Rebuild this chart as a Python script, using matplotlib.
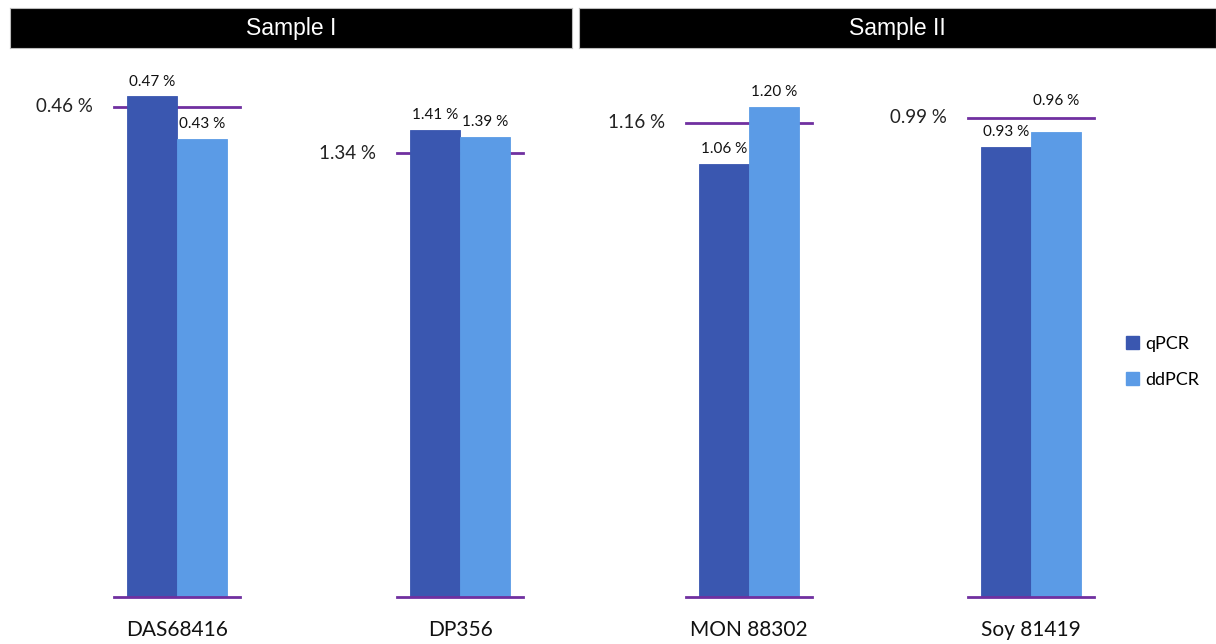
import matplotlib
matplotlib.use("Agg")
import matplotlib.pyplot as plt
from matplotlib.patches import Patch
from matplotlib import transforms

# ---- data ----
categories = ["DAS68416", "DP356", "MON 88302", "Soy 81419"]
series = ["qPCR", "ddPCR"]
qpcr = [0.47, 1.41, 1.06, 0.93]
ddpcr = [0.43, 1.39, 1.20, 0.96]
reference = [0.46, 1.34, 1.16, 0.99]
samples = ["Sample I", "Sample II"]

# ---- style / layout ----
W, H = 1216, 644
c_q = "#3A57B0"
c_d = "#5B9BE6"
c_ref = "#7030A0"
panel_centers_px = [177, 460, 749, 1031]
panel_width_px = 126
ax_bottom_px, ax_top_px = 597, 60
ylim_tops = [0.504, 1.621, 1.314, 1.109]
num_font = ["Lato", "DejaVu Sans"]

fig = plt.figure(figsize=(W / 100, H / 100), dpi=100)
fig.patch.set_facecolor("white")

# header bands
header_px = [(10, 572), (579, 1216)]
for (x0, x1), name in zip(header_px, samples):
    hax = fig.add_axes([x0 / W, 1 - 48 / H, (x1 - x0) / W, 40 / H])
    hax.set_facecolor("black")
    hax.set_xticks([]); hax.set_yticks([])
    for s in hax.spines.values():
        s.set_color("#BBBBBB")
        s.set_linewidth(0.8)
    hax.text(0.5, 0.5, name, color="white", ha="center", va="center",
             fontsize=16.5, family=["Liberation Sans", "DejaVu Sans"],
             transform=hax.transAxes)

for i, cat in enumerate(categories):
    cx = panel_centers_px[i]
    left = (cx - panel_width_px / 2) / W
    ax = fig.add_axes([left, 1 - ax_bottom_px / H, panel_width_px / W,
                       (ax_bottom_px - ax_top_px) / H])
    ax.set_xlim(-1.26, 1.26)
    ax.set_ylim(0, ylim_tops[i])
    ax.axis("off")
    vals = [qpcr[i], ddpcr[i]]
    xs = [-0.5, 0.5]
    cols = [c_q, c_d]
    ax.bar(xs, vals, width=1.0, color=cols, edgecolor=cols, linewidth=0.6,
           zorder=2)
    ref = reference[i]
    ax.axhline(ref, color=c_ref, lw=2.0, zorder=1, clip_on=False)
    ax.axhline(0, color=c_ref, lw=2.0, zorder=3, clip_on=False)
    # reference label
    ax.annotate(f"{ref:.2f} %", xy=(0, ref),
                xycoords=transforms.blended_transform_factory(ax.transAxes, ax.transData),
                xytext=(-15, 0), textcoords="offset points",
                ha="right", va="center", fontsize=13.5, family=num_font,
                color="#222222")
    # bar labels
    px_per_unit = (ax_bottom_px - ax_top_px) / ylim_tops[i]
    for x, v in zip(xs, vals):
        gap = (ref - v) * px_per_unit
        if 0 < gap < 22:
            base, off = ref, 7
        else:
            base, off = v, 5.5
        ax.annotate(f"{v:.2f} %", xy=(x, base), xytext=(0, off),
                    textcoords="offset points", ha="center", va="bottom",
                    fontsize=11, family=num_font, color="#111111")
    # category label
    ax.annotate(cat, xy=(0.5, 0), xycoords="axes fraction",
                xytext=(0, -24), textcoords="offset points",
                ha="center", va="center", fontsize=15, family=num_font,
                color="#111111")

handles = [Patch(facecolor=c, edgecolor=c) for c in (c_q, c_d)]
fig.legend(handles, series, loc="center left",
           bbox_to_anchor=(1110 / W, 1 - 362 / H), frameon=False,
           handlelength=0.7, handleheight=0.7, handletextpad=0.35,
           labelspacing=1.1, prop={"family": num_font, "size": 13})

fig.savefig("out.png", dpi=100, facecolor="white")
